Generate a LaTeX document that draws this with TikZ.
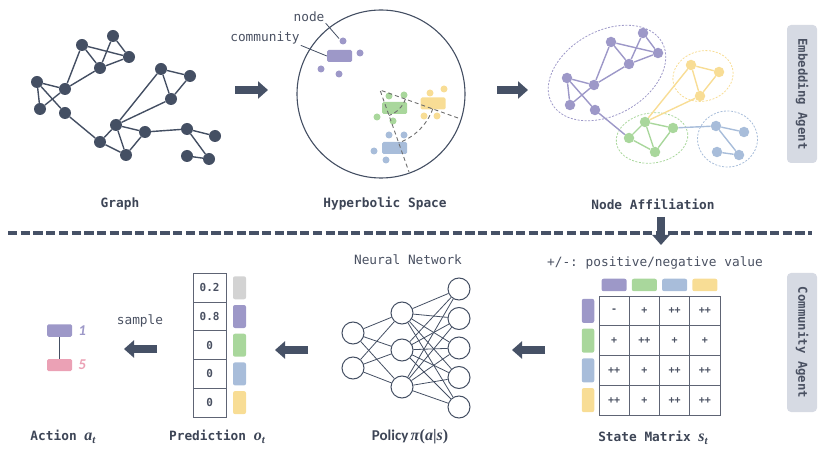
\documentclass[tikz,border=0pt]{standalone}
\usepackage{amsmath, amssymb}
\usepackage{fontspec}
\setmonofont{DejaVu Sans Mono}
\newfontfamily\sanslabel{Carlito}
\newfontfamily\mathlike{Liberation Serif}
\usetikzlibrary{arrows.meta, calc, positioning}

\definecolor{darkc}{HTML}{444F63}
\definecolor{arrowc}{HTML}{465166}
\definecolor{textc}{HTML}{4A5162}
\definecolor{titlec}{HTML}{3D4556}
\definecolor{gridc}{HTML}{5E6474}
\definecolor{hypc}{HTML}{6E6E6E}
\definecolor{purp}{HTML}{9D98C8}
\definecolor{greenc}{HTML}{A9D79C}
\definecolor{bluec}{HTML}{A8BDDA}
\definecolor{yell}{HTML}{F8DD95}
\definecolor{pinkc}{HTML}{EBA1B5}
\definecolor{greyc}{HTML}{D3D3D3}
\definecolor{tagc}{HTML}{D6DAE3}

\begin{document}
\begin{tikzpicture}[x=1pt, y=-1pt,
		font=\ttfamily\fontsize{12.8}{15}\selectfont,
		every node/.append style={text=textc},
		gnode/.style={circle, fill=darkc, inner sep=0pt, minimum size=12pt},
		gedge/.style={draw=darkc, line width=1.4pt},
		anode/.style={circle, inner sep=0pt, minimum size=10.5pt},
		aedge/.style={line width=1.4pt},
		affil/.style={line width=0.8pt, dash pattern=on 2pt off 1.5pt},
		hdot/.style={circle, inner sep=0pt, minimum size=7pt},
		comm/.style={rectangle, rounded corners=1.5pt, inner sep=0pt, minimum width=25pt, minimum height=12pt},
		bar/.style={rectangle, rounded corners=2pt, inner sep=0pt},
		leader/.style={draw=darkc, line width=0.8pt},
		hypline/.style={draw=hypc, line width=0.9pt, dash pattern=on 4pt off 3pt},
		neuron/.style={circle, draw=darkc, line width=1pt, inner sep=0pt, minimum size=22pt},
		nnedge/.style={draw=darkc, line width=0.8pt},
		predcell/.style={draw=gridc, line width=0.9pt, inner sep=0pt, minimum width=33pt, minimum height=28.7pt,
			font=\ttfamily\bfseries\fontsize{11}{12}\selectfont},
		mcell/.style={draw=gridc, line width=0.9pt, inner sep=0pt, minimum width=30.25pt, minimum height=29.75pt,
			font=\ttfamily\bfseries\fontsize{10}{11}\selectfont},
		title/.style={font=\ttfamily\bfseries\fontsize{12.8}{15}\selectfont, text=titlec},
		tag/.style={fill=tagc, rounded corners=4pt, inner sep=0pt, minimum width=138pt, minimum height=30pt,
			font=\ttfamily\bfseries\fontsize{12.3}{14}\selectfont},
		blockarrow/.style={draw=arrowc, line width=8.5pt, -{Triangle[length=10pt, width=17pt]}},
		sepline/.style={draw=arrowc, line width=3.5pt, dash pattern=on 9.3pt off 3.4pt}]

	\newcommand{\bvar}[2]
	{%
		{\mathlike\bfseries\itshape\fontsize{16}{16}\selectfont #1}\raisebox{-0.35ex}{\mathlike\bfseries\itshape\fontsize{11}{11}\selectfont #2}%
	}

	\useasboundingbox (0,0) rectangle (835,462);

	% graph
	\foreach \n/\x/\y in {a/113/36, b/82/45, c/129/57, d/100/68, e/37/82, f/65/89, g/40/109, h/65/113,
		i/161/69, j/190/76, k/171/99, l/116/125, m/145/132, n/100/142, o/126/155,
		p/187/129, q/215/136, r/187/156, s/209/159}
		\node[gnode] (g\n) at (\x,\y) {};
	\foreach \u/\v in {a/c, a/d, b/c, b/d, b/f, d/c, d/f, e/f, e/g, e/h, g/f, h/n,
		l/i, l/k, i/j, j/k, i/k, l/m, l/n, l/o, n/o, m/o, m/p, p/q, p/s, r/s}
		\draw[gedge] (g\u) -- (g\v);
	\node[title] (ttgraph) at (120,204) {Graph};

	% hyperbolic space
	\node[circle, draw=darkc, line width=1.1pt, minimum size=168pt, inner sep=0pt] (disk) at (381,94) {};
	\node[comm, fill=purp] (hcp) at (339.5,56) {};
	\node[comm, fill=greenc] (hcg) at (394.5,108) {};
	\node[comm, fill=yell] (hcy) at (433,103.5) {};
	\node[comm, fill=bluec] (hcb) at (394.5,148) {};
	\foreach \n/\x/\y/\c in {p1/343/41/purp, p2/360/53/purp, p3/321/69/purp, p4/339/74/purp,
		g1/389/96/greenc, g2/404/95/greenc, g3/377/117/greenc, g4/393/121/greenc,
		y1/430/93/yell, y2/444/89/yell, y3/424/116/yell, y4/437/116/yell,
		b1/389/135/bluec, b2/404/135/bluec, b3/374/151/bluec, b4/386/160/bluec}
		\node[hdot, fill=\c] (h\n) at (\x,\y) {};
	\coordinate (apex) at (380,90);
	\coordinate (rayA) at (458,118);
	\coordinate (rayB) at (409,172);
	\draw[hypline] (rayA) -- (apex) -- (rayB);
	\draw[hypline] ($(apex)+(19.7:27)$) arc[start angle=19.7, end angle=70.5, radius=27];
	\draw[hypline] ($(apex)+(19.7:56)$) arc[start angle=19.7, end angle=70.5, radius=56];
	\node[inner sep=1pt] (lnode) at (309,17) {node};
	\node[inner sep=1pt] (lcomm) at (265,38) {community};
	\draw[leader] (lnode.south east) -- ($(hp1)+(-4,-2.5)$);
	\draw[leader] (lcomm.south east) -- (hcp.west);
	\node[title] (tthyp) at (385,204) {Hyperbolic Space};

	% node affiliation
	\draw[affil, draw=purp, rotate around={29:(607,73)}] (607,73) ellipse [x radius=63, y radius=42];
	\draw[affil, draw=yell, rotate around={15:(703,76)}] (703,76) ellipse [x radius=30.5, y radius=25];
	\draw[affil, draw=greenc, rotate around={8:(652,138)}] (652,138) ellipse [x radius=36, y radius=25];
	\draw[affil, draw=bluec] (727.5,139) ellipse [x radius=30, y radius=28];
	\foreach \n/\x/\y/\c in {a/643/33/purp, b/611/42/purp, c/658/53/purp, d/629/64/purp,
		e/567/78/purp, f/594/85/purp, g/570/105/purp, h/595/110/purp,
		i/691/65/yell, j/719/72/yell, k/700/96/yell,
		l/645/122/greenc, m/673/128/greenc, n/629/138/greenc, o/655/152/greenc,
		p/716/126/bluec, q/744/132/bluec, r/717/152/bluec, s/739/155/bluec}
		\node[anode, fill=\c] (f\n) at (\x,\y) {};
	\foreach \u/\v/\c in {a/c/purp, a/d/purp, b/c/purp, b/d/purp, b/f/purp, d/c/purp, d/f/purp,
		e/f/purp, e/g/purp, e/h/purp, g/f/purp, h/n/purp,
		l/i/yell, l/k/yell, i/j/yell, j/k/yell, i/k/yell,
		l/m/greenc, l/n/greenc, l/o/greenc, n/o/greenc, m/o/greenc,
		m/p/bluec, p/q/bluec, p/s/bluec, r/s/bluec}
		\draw[aedge, draw=\c] (f\u) -- (f\v);
	\node[title] (ttaffil) at (653,204) {Node Affiliation};

	% top arrows
	\coordinate (arrAs) at (235,90);
	\coordinate (arrAe) at (268,90);
	\coordinate (arrBs) at (497,90);
	\coordinate (arrBe) at (528,90);
	\draw[blockarrow] (arrAs) -- (arrAe);
	\draw[blockarrow] (arrBs) -- (arrBe);

	% separator
	\coordinate (sepL) at (8,233);
	\coordinate (sepR) at (812,233);
	\draw[sepline] (sepL) -- (sepR);
	\coordinate (downS) at (661,217);
	\coordinate (downE) at (661,245);
	\draw[blockarrow] (downS) -- (downE);

	% agent tags
	\node[tag, rotate=-90] (embtag) at (802,94) {Embedding Agent};
	\node[tag, rotate=-90, minimum width=139pt] (comtag) at (802,342.5) {Community Agent};

	% state matrix
	\node (legend) at (655,263) {+/-: positive/negative value};
	\foreach \r [count=\i] in {{-,+,++,++},{+,++,+,+},{++,+,++,++},{++,+,++,++}}
		\foreach \v [count=\j] in \r
			\node[mcell] (m\i\j) at ({599+30.25*(\j-0.5)},{296+29.75*(\i-0.5)}) {\v};
	\foreach \c [count=\j] in {purp,greenc,bluec,yell}
		\node[bar, fill=\c, minimum width=25pt, minimum height=12.5pt] (cb\j) at ({599+30.25*(\j-0.5)},285) {};
	\foreach \c [count=\i] in {purp,greenc,bluec,yell}
		\node[bar, fill=\c, minimum width=12.5pt, minimum height=24pt] (rb\i) at (588,{296+29.75*(\i-0.5)}) {};
	\node[title] (ttstate) at (653,438) {State Matrix \bvar{s}{t}};

	% neural network
	\node (nnlabel) at (408,260) {Neural Network};
	\foreach \i/\y in {1/333, 2/368}
		\node[neuron] (in\i) at (353,\y) {};
	\foreach \i/\y in {1/313, 2/350, 3/387}
		\node[neuron] (hd\i) at (402,\y) {};
	\foreach \i/\y in {1/289, 2/318.5, 3/348, 4/377.5, 5/407}
		\node[neuron] (out\i) at (459,\y) {};
	\foreach \i in {1,2}
		\foreach \j in {1,2,3}
			\draw[nnedge] (in\i) -- (hd\j);
	\foreach \j in {1,2,3}
		\foreach \k in {1,...,5}
			\draw[nnedge] (hd\j) -- (out\k);
	\node[title] (ttpolicy) at (410,437) {{\sanslabel\bfseries\fontsize{15}{16}\selectfont Policy}\,{\mathlike\bfseries\fontsize{16}{16}\selectfont\textit{π}(\textit{a}|\textit{s})}};

	% prediction
	\foreach \v [count=\i] in {0.2,0.8,0,0,0}
		\node[predcell] (pc\i) at (209.6,{287.8+(\i-1)*28.7}) {\v};
	\foreach \c [count=\i] in {greyc,purp,greenc,bluec,yell}
		\node[bar, fill=\c, minimum width=13pt, minimum height=23pt] (pb\i) at (239.5,{287.8+(\i-1)*28.7}) {};
	\node[title] (ttpred) at (217,437) {Prediction \bvar{o}{t}};

	% action
	\node[comm, fill=purp, minimum height=12.5pt] (actu) at (59.5,330.5) {};
	\node[comm, fill=pinkc] (actv) at (59.5,365) {};
	\draw[darkc, line width=1pt] (actu) -- (actv);
	\node[right=6pt of actu, inner sep=0pt, text=purp, font=\sanslabel\bfseries\itshape\fontsize{15}{16}\selectfont] (lblu) {1};
	\node[right=6pt of actv, inner sep=0pt, text=pinkc, font=\sanslabel\bfseries\itshape\fontsize{15}{16}\selectfont] (lblv) {5};
	\node (smplabel) at (140,321) {sample};
	\node[title] (ttaction) at (63,437) {Action \bvar{a}{t}};

	% bottom arrows
	\coordinate (arrCs) at (545,350);
	\coordinate (arrCe) at (512,350);
	\coordinate (arrDs) at (308,350);
	\coordinate (arrDe) at (275,350);
	\coordinate (arrEs) at (157,349);
	\coordinate (arrEe) at (124,349);
	\draw[blockarrow] (arrCs) -- (arrCe);
	\draw[blockarrow] (arrDs) -- (arrDe);
	\draw[blockarrow] (arrEs) -- (arrEe);
\end{tikzpicture}
\end{document}
